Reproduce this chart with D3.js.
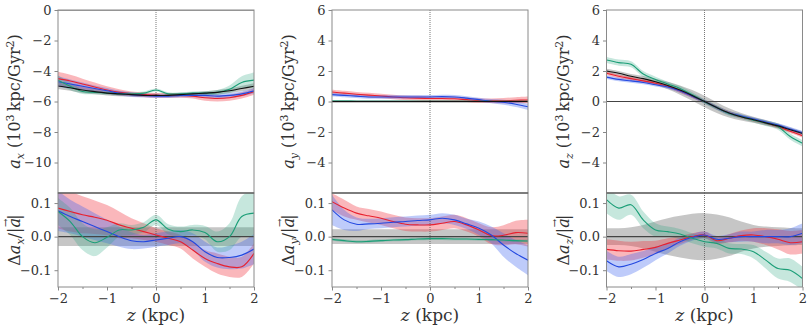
<!DOCTYPE html>
<html>
<head>
<meta charset="utf-8">
<script src="https://cdn.jsdelivr.net/npm/d3@7"></script>
<style>
body { margin: 0; background: #fff; }
svg text { font-family: "DejaVu Serif", "Liberation Serif", serif; fill: #333; }
</style>
</head>
<body>
<div class="canvas"></div>
<script>
var w = 810;
var h = 329;

// sample points along z (kpc)
var zs = [-2, -1.75, -1.5, -1.25, -1, -0.75, -0.5, -0.25, 0, 0.25, 0.5, 0.75, 1, 1.25, 1.5, 1.75, 2];

// ---- a_x (top) ----
var axBlack = [-4.98, -5.1, -5.25, -5.35, -5.45, -5.5, -5.55, -5.6, -5.6, -5.6, -5.55, -5.5, -5.45, -5.4, -5.3, -5.15, -5.0];
var axBlackErr = [0.22, 0.2, 0.2, 0.18, 0.15, 0.15, 0.12, 0.12, 0.12, 0.12, 0.12, 0.12, 0.12, 0.15, 0.15, 0.18, 0.2];
var axRed = [-4.5, -4.65, -4.85, -5.05, -5.25, -5.4, -5.5, -5.55, -5.6, -5.6, -5.6, -5.65, -5.75, -5.8, -5.75, -5.6, -5.35];
var axRedErr = [0.45, 0.4, 0.35, 0.3, 0.25, 0.2, 0.15, 0.15, 0.15, 0.15, 0.15, 0.15, 0.2, 0.2, 0.2, 0.2, 0.2];
var axBlue = [-4.7, -4.85, -5.0, -5.15, -5.3, -5.45, -5.55, -5.6, -5.65, -5.65, -5.6, -5.6, -5.6, -5.65, -5.6, -5.5, -5.3];
var axBlueErr = [0.35, 0.3, 0.25, 0.2, 0.18, 0.15, 0.15, 0.12, 0.12, 0.12, 0.12, 0.12, 0.15, 0.15, 0.15, 0.15, 0.18];
var axGreen = [-4.6, -5.0, -5.35, -5.4, -5.45, -5.5, -5.5, -5.45, -5.25, -5.5, -5.5, -5.45, -5.45, -5.4, -5.2, -4.75, -4.6];
var axGreenErr = [0.3, 0.25, 0.15, 0.12, 0.1, 0.1, 0.1, 0.1, 0.1, 0.1, 0.1, 0.1, 0.12, 0.15, 0.25, 0.4, 0.5];

// ---- delta a_x (bottom) ----
var dxBlack = [0, 0, 0, 0, 0, 0, 0, 0, 0, 0, 0, 0, 0, 0, 0, 0, 0];
var dxBlackErr = [0.028, 0.028, 0.028, 0.028, 0.028, 0.028, 0.028, 0.028, 0.028, 0.028, 0.028, 0.028, 0.028, 0.028, 0.028, 0.028, 0.028];
var dxRed = [0.085, 0.075, 0.065, 0.058, 0.049, 0.035, 0.025, 0.015, 0.005, -0.005, -0.015, -0.04, -0.065, -0.08, -0.09, -0.09, -0.05];
var dxRedErr = [0.06, 0.06, 0.055, 0.05, 0.045, 0.04, 0.03, 0.025, 0.02, 0.02, 0.02, 0.025, 0.025, 0.03, 0.03, 0.03, 0.03];
var dxBlue = [0.077, 0.06, 0.045, 0.03, 0.015, 0.0, -0.012, -0.015, -0.01, -0.005, 0.0, -0.015, -0.045, -0.062, -0.062, -0.055, -0.037];
var dxBlueErr = [0.06, 0.05, 0.045, 0.04, 0.035, 0.03, 0.025, 0.02, 0.02, 0.02, 0.02, 0.025, 0.03, 0.03, 0.035, 0.04, 0.045];
var dxGreen = [0.075, 0.045, 0.0, -0.018, -0.002, 0.02, 0.02, 0.028, 0.05, 0.022, 0.015, 0.02, 0.012, -0.015, 0.0, 0.06, 0.07];
var dxGreenErr = [0.04, 0.04, 0.04, 0.04, 0.03, 0.02, 0.015, 0.015, 0.015, 0.015, 0.015, 0.015, 0.02, 0.03, 0.04, 0.06, 0.07];

// ---- a_y (top) ----
var ayBlack = [0, 0, 0, 0, 0, 0, 0, 0, 0, 0, 0, 0, 0, 0, 0, 0, 0];
var ayBlackErr = [0.1, 0.1, 0.1, 0.1, 0.1, 0.1, 0.1, 0.1, 0.1, 0.1, 0.1, 0.1, 0.1, 0.1, 0.1, 0.1, 0.1];
var ayRed = [0.62, 0.55, 0.48, 0.42, 0.36, 0.3, 0.25, 0.22, 0.2, 0.2, 0.18, 0.12, 0.06, 0.05, 0.05, 0.08, 0.1];
var ayRedErr = [0.15, 0.15, 0.15, 0.15, 0.15, 0.15, 0.15, 0.15, 0.15, 0.15, 0.15, 0.15, 0.15, 0.15, 0.18, 0.2, 0.22];
var ayBlue = [0.45, 0.4, 0.35, 0.3, 0.3, 0.3, 0.3, 0.3, 0.3, 0.32, 0.3, 0.22, 0.12, 0.02, -0.05, -0.18, -0.35];
var ayBlueErr = [0.12, 0.12, 0.12, 0.12, 0.12, 0.12, 0.12, 0.12, 0.12, 0.12, 0.12, 0.12, 0.12, 0.14, 0.16, 0.18, 0.2];
var ayGreen = [0.03, 0.03, 0.02, 0.02, 0.02, 0.02, 0.02, 0.02, 0.02, 0.02, 0.02, 0.02, 0.02, 0.02, 0.02, 0.02, 0.02];
var ayGreenErr = [0.05, 0.05, 0.05, 0.05, 0.05, 0.05, 0.05, 0.05, 0.05, 0.05, 0.05, 0.05, 0.05, 0.05, 0.05, 0.05, 0.05];

// ---- delta a_y (bottom) ----
var dyBlack = [0, 0, 0, 0, 0, 0, 0, 0, 0, 0, 0, 0, 0, 0, 0, 0, 0];
var dyBlackErr = [0.022, 0.022, 0.022, 0.022, 0.022, 0.022, 0.022, 0.022, 0.022, 0.022, 0.022, 0.022, 0.022, 0.022, 0.022, 0.022, 0.022];
var dyRed = [0.104, 0.085, 0.07, 0.062, 0.055, 0.045, 0.037, 0.035, 0.035, 0.04, 0.045, 0.035, 0.02, 0.003, 0.004, 0.012, 0.01];
var dyRedErr = [0.025, 0.025, 0.02, 0.02, 0.02, 0.02, 0.02, 0.02, 0.02, 0.02, 0.02, 0.02, 0.02, 0.025, 0.03, 0.035, 0.04];
var dyBlue = [0.08, 0.05, 0.037, 0.038, 0.04, 0.043, 0.045, 0.048, 0.05, 0.055, 0.05, 0.038, 0.025, 0.005, -0.025, -0.05, -0.07];
var dyBlueErr = [0.045, 0.03, 0.02, 0.015, 0.015, 0.015, 0.015, 0.015, 0.015, 0.015, 0.015, 0.015, 0.02, 0.025, 0.035, 0.04, 0.045];
var dyGreen = [-0.008, -0.012, -0.015, -0.014, -0.012, -0.01, -0.009, -0.007, -0.006, -0.006, -0.007, -0.007, -0.008, -0.009, -0.01, -0.012, -0.013];
var dyGreenErr = [0.004, 0.004, 0.004, 0.004, 0.004, 0.004, 0.004, 0.004, 0.004, 0.004, 0.004, 0.004, 0.004, 0.004, 0.004, 0.004, 0.004];

// ---- a_z (top) ----
var azBlack = [2.0, 1.85, 1.65, 1.5, 1.3, 1.05, 0.75, 0.4, 0.0, -0.4, -0.75, -1.0, -1.2, -1.4, -1.6, -1.85, -2.1];
var azBlackErr = [0.15, 0.15, 0.15, 0.17, 0.2, 0.25, 0.3, 0.35, 0.38, 0.35, 0.3, 0.25, 0.2, 0.18, 0.15, 0.15, 0.15];
var azRed = [1.85, 1.65, 1.5, 1.35, 1.2, 1.0, 0.7, 0.35, 0.0, -0.4, -0.75, -1.0, -1.2, -1.4, -1.65, -1.95, -2.25];
var azRedErr = [0.12, 0.12, 0.12, 0.12, 0.12, 0.12, 0.12, 0.12, 0.12, 0.12, 0.12, 0.12, 0.12, 0.12, 0.12, 0.12, 0.12];
var azBlue = [1.6, 1.45, 1.35, 1.25, 1.1, 0.95, 0.7, 0.35, 0.0, -0.4, -0.75, -0.95, -1.15, -1.35, -1.55, -1.8, -2.05];
var azBlueErr = [0.12, 0.12, 0.12, 0.12, 0.12, 0.12, 0.12, 0.12, 0.12, 0.12, 0.12, 0.12, 0.12, 0.12, 0.12, 0.12, 0.12];
var azGreen = [2.72, 2.55, 2.44, 1.8, 1.45, 1.15, 0.86, 0.45, -0.01, -0.4, -0.78, -1.0, -1.22, -1.42, -1.65, -2.3, -2.74];
var azGreenErr = [0.2, 0.2, 0.2, 0.2, 0.18, 0.15, 0.15, 0.15, 0.15, 0.15, 0.15, 0.15, 0.15, 0.18, 0.2, 0.2, 0.2];

// ---- delta a_z (bottom) ----
var dzBlack = [0, 0, 0, 0, 0, 0, 0, 0, 0, 0, 0, 0, 0, 0, 0, 0, 0];
var dzBlackErr = [0.025, 0.025, 0.028, 0.035, 0.045, 0.055, 0.062, 0.068, 0.07, 0.066, 0.058, 0.045, 0.035, 0.03, 0.028, 0.026, 0.025];
var dzRed = [-0.038, -0.042, -0.043, -0.038, -0.032, -0.02, -0.01, 0.0, 0.005, -0.012, -0.005, 0.003, 0.005, 0.0, -0.008, -0.018, -0.015];
var dzRedErr = [0.03, 0.03, 0.028, 0.025, 0.02, 0.015, 0.012, 0.01, 0.01, 0.01, 0.012, 0.015, 0.02, 0.025, 0.03, 0.035, 0.035];
var dzBlue = [-0.072, -0.09, -0.082, -0.068, -0.05, -0.035, -0.015, -0.002, 0.005, -0.008, -0.005, 0.0, 0.0, 0.0, 0.0, 0.0, 0.01];
var dzBlueErr = [0.03, 0.03, 0.03, 0.025, 0.02, 0.015, 0.012, 0.01, 0.01, 0.01, 0.012, 0.015, 0.015, 0.02, 0.02, 0.025, 0.03];
var dzGreen = [0.11, 0.085, 0.095, 0.05, 0.02, 0.015, 0.008, -0.005, -0.015, -0.02, -0.035, -0.037, -0.045, -0.07, -0.095, -0.1, -0.125];
var dzGreenErr = [0.04, 0.035, 0.03, 0.025, 0.02, 0.015, 0.015, 0.015, 0.015, 0.015, 0.015, 0.015, 0.02, 0.025, 0.03, 0.035, 0.035];

var topTicks = [[0, -2, -4, -6, -8, -10], [6, 4, 2, 0, -2, -4], [6, 4, 2, 0, -2, -4]];
var topDomains = [[-12, 0], [-6, 6], [-6, 6]];
var botTicks = [0.1, 0.0, -0.1];
var xTicks = [-2, -1, 0, 1, 2];
var xMinor = [-1.5, -0.5, 0.5, 1.5];
var comps = ["x", "y", "z"];

var colors = { black: "#111", red: "#e8202e", blue: "#2248e0", green: "#1b9e77" };
var bandFill = { black: "#808080", red: "#f0303c", blue: "#3a62f0", green: "#1b9e77" };
var bandOpacity = { black: 0.45, red: 0.35, blue: 0.33, green: 0.25 };

var panels = [
    { top: { black: [axBlack, axBlackErr], red: [axRed, axRedErr], blue: [axBlue, axBlueErr], green: [axGreen, axGreenErr] },
      bot: { black: [dxBlack, dxBlackErr], red: [dxRed, dxRedErr], blue: [dxBlue, dxBlueErr], green: [dxGreen, dxGreenErr] } },
    { top: { black: [ayBlack, ayBlackErr], red: [ayRed, ayRedErr], blue: [ayBlue, ayBlueErr], green: [ayGreen, ayGreenErr] },
      bot: { black: [dyBlack, dyBlackErr], red: [dyRed, dyRedErr], blue: [dyBlue, dyBlueErr], green: [dyGreen, dyGreenErr] } },
    { top: { black: [azBlack, azBlackErr], red: [azRed, azRedErr], blue: [azBlue, azBlueErr], green: [azGreen, azGreenErr] },
      bot: { black: [dzBlack, dzBlackErr], red: [dzRed, dzRedErr], blue: [dzBlue, dzBlueErr], green: [dzGreen, dzGreenErr] } }
];

var lefts = [58, 332, 606.5];
var pw = 196;
var yTop = 10, yMid = 193, yBot = 287;
var serif = "'DejaVu Serif', 'Liberation Serif', serif";

var svg = d3.select(".canvas").append("svg")
    .attr("width", w)
    .attr("height", h)
    .style("font-family", serif);

var defs = svg.append("defs");

var order = ["black", "red", "blue", "green"];
var lineOrder = ["red", "blue", "green", "black"];

function fmtTop(d) { return d < 0 ? "\u2212" + (-d) : "" + d; }
function fmtBot(d) { return d < 0 ? "\u2212" + (-d).toFixed(1) : d.toFixed(1); }

function drawPanel(g, key, set, xScale, yScale, y0, y1, ticks, fmt, showX) {
    var clipId = "clip-" + key;
    defs.append("clipPath").attr("id", clipId)
        .append("rect").attr("x", xScale(-2)).attr("y", y0).attr("width", pw).attr("height", y1 - y0);

    var plot = g.append("g").attr("clip-path", "url(#" + clipId + ")");

    order.forEach(function(c) {
        var m = set[c][0], e = set[c][1];
        var area = d3.area()
            .x(function(d, i) { return xScale(zs[i]); })
            .y0(function(d, i) { return yScale(m[i] - e[i]); })
            .y1(function(d, i) { return yScale(m[i] + e[i]); })
            .curve(d3.curveCatmullRom.alpha(0.5));
        plot.append("path").attr("d", area(m))
            .attr("fill", bandFill[c]).attr("fill-opacity", bandOpacity[c]).attr("stroke", "none");
    });

    // zero line and z=0 line
    plot.append("line")
        .attr("x1", xScale(-2)).attr("x2", xScale(2))
        .attr("y1", yScale(0)).attr("y2", yScale(0))
        .attr("stroke", "#444").attr("stroke-width", 1.1);
    plot.append("line")
        .attr("x1", xScale(0)).attr("x2", xScale(0))
        .attr("y1", y0).attr("y2", y1)
        .attr("stroke", "#555").attr("stroke-width", 0.8).attr("stroke-dasharray", "1,1");

    lineOrder.forEach(function(c) {
        var m = set[c][0];
        if (c == "black" && key.indexOf("bot") >= 0) return;
        var line = d3.line()
            .x(function(d, i) { return xScale(zs[i]); })
            .y(function(d) { return yScale(d); })
            .curve(d3.curveCatmullRom.alpha(0.5));
        plot.append("path").attr("d", line(m))
            .attr("fill", "none").attr("stroke", colors[c]).attr("stroke-width", 1.1);
    });

    // y axis
    var yAxis = d3.axisLeft(yScale).tickValues(ticks).tickFormat(fmt).tickSize(3.5).tickPadding(3);
    var ya = g.append("g").attr("transform", "translate(" + xScale(-2) + ",0)").call(yAxis)
        .attr("font-family", serif).attr("font-size", 13);
    ya.select(".domain").remove();
    ya.selectAll("line").attr("stroke", "#888");
    ya.selectAll("text").attr("fill", "#333");

    if (showX) {
        var xAxis = d3.axisBottom(xScale).tickValues(xTicks).tickFormat(fmtTop).tickSize(3.5).tickPadding(3);
        var xa = g.append("g").attr("transform", "translate(0," + y1 + ")").call(xAxis)
            .attr("font-family", serif).attr("font-size", 13);
        xa.select(".domain").remove();
        xa.selectAll("line").attr("stroke", "#888");
        xa.selectAll("text").attr("fill", "#333");
        var xm = d3.axisBottom(xScale).tickValues(xMinor).tickFormat("").tickSize(2);
        var xb = g.append("g").attr("transform", "translate(0," + y1 + ")").call(xm);
        xb.select(".domain").remove();
        xb.selectAll("line").attr("stroke", "#888");
    }

    // frame
    g.append("rect").attr("x", xScale(-2)).attr("y", y0).attr("width", pw).attr("height", y1 - y0)
        .attr("fill", "none").attr("stroke", "#8a8a8a").attr("stroke-width", 1);
}

panels.forEach(function(p, k) {
    var left = lefts[k];
    var xScale = d3.scaleLinear().domain([-2, 2]).range([left, left + pw]);
    var yTopScale = d3.scaleLinear().domain(topDomains[k]).range([yMid, yTop]);
    var yBotScale = d3.scaleLinear().domain([-0.15, 0.13]).range([yBot, yMid]);

    var g = svg.append("g");
    drawPanel(g, "top" + k, p.top, xScale, yTopScale, yTop, yMid, topTicks[k], fmtTop, false);
    drawPanel(g, "bot" + k, p.bot, xScale, yBotScale, yMid, yBot, botTicks, fmtBot, true);

    // darker divider between panels
    g.append("line").attr("x1", left).attr("x2", left + pw).attr("y1", yMid).attr("y2", yMid)
        .attr("stroke", "#555").attr("stroke-width", 1.2);

    // y label top
    var lx = left - 38;
    var t1 = g.append("text")
        .attr("transform", "translate(" + lx + "," + ((yTop + yMid) / 2) + ") rotate(-90)")
        .attr("text-anchor", "middle").attr("font-size", 16);
    t1.append("tspan").attr("font-style", "italic").text("a");
    t1.append("tspan").attr("font-style", "italic").attr("font-size", 11).attr("dy", 4).text(comps[k]);
    t1.append("tspan").attr("dy", -4).text(" (10");
    t1.append("tspan").attr("font-size", 11).attr("dy", -6).text("3");
    t1.append("tspan").attr("dy", 6).text("\u2009kpc/Gyr");
    t1.append("tspan").attr("font-size", 11).attr("dy", -6).text("2");
    t1.append("tspan").attr("dy", 6).text(")");

    // y label bottom
    var t2 = g.append("text")
        .attr("transform", "translate(" + lx + "," + ((yMid + yBot) / 2) + ") rotate(-90)")
        .attr("text-anchor", "middle").attr("font-size", 16);
    t2.append("tspan").text("\u0394");
    t2.append("tspan").attr("font-style", "italic").text("a");
    t2.append("tspan").attr("font-style", "italic").attr("font-size", 11).attr("dy", 4).text(comps[k]);
    t2.append("tspan").attr("dy", -4).text("/|");
    t2.append("tspan").attr("font-style", "italic").text("a");
    t2.append("tspan").attr("font-size", 10).attr("dx", -9).attr("dy", -11).text("\u2192");
    t2.append("tspan").attr("dy", 11).attr("dx", -1).text("|");

    // x label
    var t3 = g.append("text")
        .attr("x", left + pw / 2).attr("y", 321)
        .attr("text-anchor", "middle").attr("font-size", 17);
    t3.append("tspan").attr("font-style", "italic").text("z");
    t3.append("tspan").text(" (kpc)");
});
</script>
</body>
</html>
